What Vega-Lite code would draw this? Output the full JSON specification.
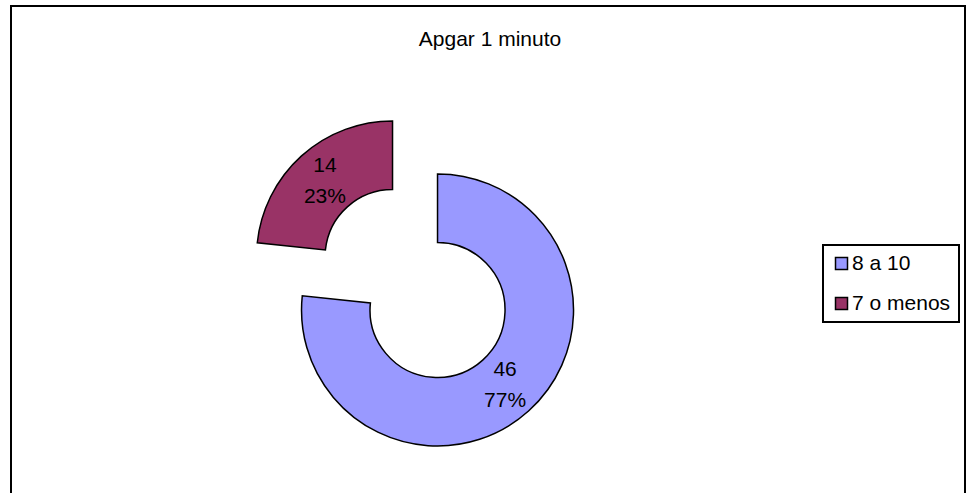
{
  "$schema": "https://vega.github.io/schema/vega-lite/v6.json",
  "width": 954,
  "height": 487,
  "autosize": {"type": "none"},
  "padding": {"left": 11, "top": 6, "right": 1, "bottom": 0},
  "background": "white",
  "view": {"stroke": "black", "strokeWidth": 2, "strokeDash": [1441, 954, 487], "fill": "white"},
  "config": {
    "view": {"stroke": "black", "strokeWidth": 2, "strokeDash": [1441, 954, 487]},
    "font": "Liberation Sans",
    "legend": {"strokeWidth": 2}
  },
  "title": {
    "text": "Apgar 1 minuto",
    "anchor": "middle",
    "offset": -61,
    "baseline": "alphabetic",
    "dx": 2,
    "font": "Liberation Sans",
    "fontSize": 21,
    "fontWeight": "normal",
    "color": "black"
  },
  "params": [
    {"name": "cx", "expr": "width * 0.4471"},
    {"name": "cy", "expr": "height * 0.6242"}
  ],
  "data": {
    "values": [
      {"grupo": "8 a 10", "n": 46},
      {"grupo": "7 o menos", "n": 14}
    ]
  },
  "transform": [
    {"joinaggregate": [{"op": "sum", "field": "n", "as": "total"}]},
    {"stack": "n", "groupby": [], "as": ["t0", "t1"]},
    {"calculate": "(datum.t0 + datum.t1) / 2", "as": "mid"},
    {"calculate": "datum.n / datum.total", "as": "share"}
  ],
  "layer": [
    {
      "transform": [{"filter": "datum.grupo === '8 a 10'"}],
      "mark": {"type": "arc", "radius": 136, "radius2": 67.5, "stroke": "black", "strokeWidth": 1.5, "x": {"expr": "cx"}, "y": {"expr": "cy"}},
      "encoding": {
        "theta": {"field": "t0", "type": "quantitative", "stack": null, "scale": {"domain": [0, 60]}},
        "theta2": {"field": "t1"},
        "color": {
          "field": "grupo",
          "type": "nominal",
          "scale": {"domain": ["8 a 10", "7 o menos"], "range": ["#9999FF", "#993366"]},
          "legend": {
            "title": null,
            "orient": "none",
            "legendX": 812,
            "legendY": 239,
            "direction": "vertical",
            "symbolType": "square",
            "symbolSize": 144,
            "symbolStrokeColor": "black",
            "symbolStrokeWidth": 1.5,
            "symbolOpacity": 1,
            "labelFont": "Liberation Sans",
            "labelFontSize": 21,
            "labelColor": "black",
            "labelOffset": 0,
            "rowPadding": 18,
            "padding": 8,
            "strokeColor": "black"
          }
        }
      }
    },
    {
      "transform": [{"filter": "datum.grupo === '7 o menos'"}],
      "mark": {"type": "arc", "radius": 136, "radius2": 67.5, "stroke": "black", "strokeWidth": 1.5, "x": {"expr": "cx"}, "y": {"expr": "cy"}, "xOffset": -45, "yOffset": -53},
      "encoding": {
        "theta": {"field": "t0", "type": "quantitative", "stack": null},
        "theta2": {"field": "t1"},
        "color": {"field": "grupo", "type": "nominal"}
      }
    },
    {
      "transform": [{"filter": "datum.grupo === '8 a 10'"}],
      "mark": {"type": "text", "radius": 101, "dy": -15.5, "baseline": "middle", "align": "center", "fontSize": 21, "font": "Liberation Sans", "color": "black", "x": {"expr": "cx"}, "y": {"expr": "cy"}},
      "encoding": {
        "theta": {"field": "mid", "type": "quantitative", "stack": null},
        "text": {"field": "n", "type": "quantitative"}
      }
    },
    {
      "transform": [{"filter": "datum.grupo === '8 a 10'"}],
      "mark": {"type": "text", "radius": 101, "dy": 15.5, "baseline": "middle", "align": "center", "fontSize": 21, "font": "Liberation Sans", "color": "black", "x": {"expr": "cx"}, "y": {"expr": "cy"}},
      "encoding": {
        "theta": {"field": "mid", "type": "quantitative", "stack": null},
        "text": {"field": "share", "type": "quantitative", "format": ".0%"}
      }
    },
    {
      "transform": [{"filter": "datum.grupo === '7 o menos'"}],
      "mark": {"type": "text", "radius": 101, "dy": -15.5, "baseline": "middle", "align": "center", "fontSize": 21, "font": "Liberation Sans", "color": "black", "x": {"expr": "cx"}, "y": {"expr": "cy"}, "xOffset": -45, "yOffset": -53},
      "encoding": {
        "theta": {"field": "mid", "type": "quantitative", "stack": null},
        "text": {"field": "n", "type": "quantitative"}
      }
    },
    {
      "transform": [{"filter": "datum.grupo === '7 o menos'"}],
      "mark": {"type": "text", "radius": 101, "dy": 15.5, "baseline": "middle", "align": "center", "fontSize": 21, "font": "Liberation Sans", "color": "black", "x": {"expr": "cx"}, "y": {"expr": "cy"}, "xOffset": -45, "yOffset": -53},
      "encoding": {
        "theta": {"field": "mid", "type": "quantitative", "stack": null},
        "text": {"field": "share", "type": "quantitative", "format": ".0%"}
      }
    }
  ]
}
